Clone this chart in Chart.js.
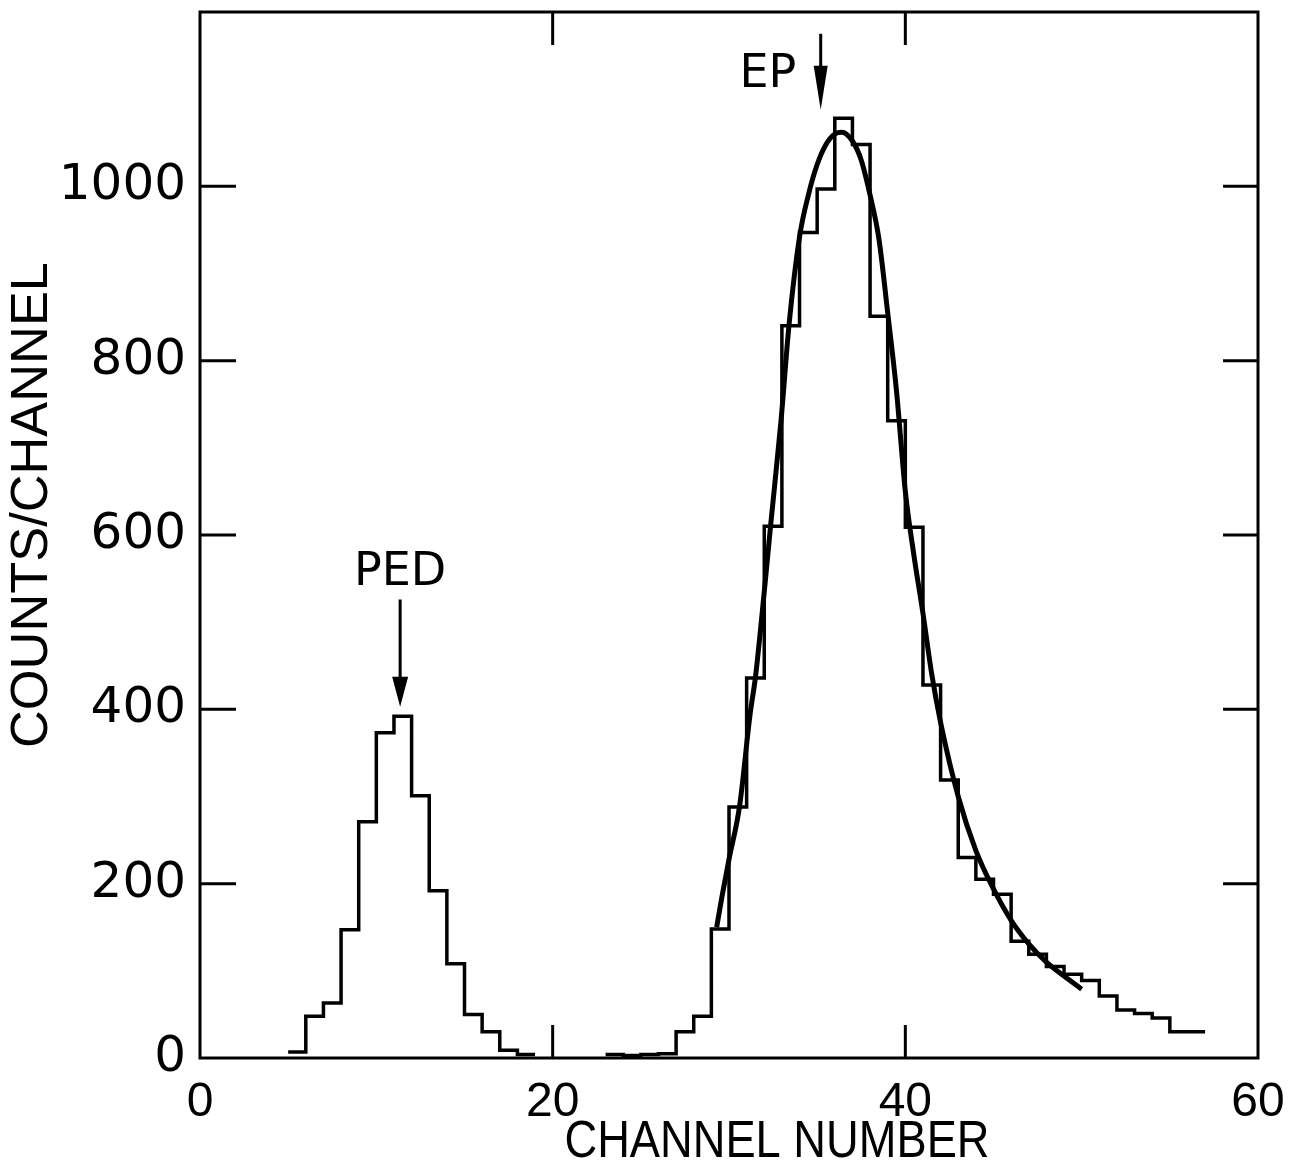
<!DOCTYPE html>
<html lang="en">
<head>
  <meta charset="UTF-8">
  <title>Counts per channel</title>
  <script src="https://cdn.jsdelivr.net/npm/chart.js"></script>
  <style>
    html, body { margin: 0; padding: 0; background: #fff; }
    #wrap { width: 1302px; height: 1164px; }
  </style>
</head>
<body>
<div id="wrap"><canvas id="myChart"></canvas></div>
<script>
  // pedestal histogram: low edge of each channel bin and its counts
  const pedChannels = [5, 6, 7, 8, 9, 10, 11, 12, 13, 14, 15, 16, 17, 18];
  const pedCounts = [7, 48, 63, 147, 271, 373, 392, 301, 192, 108, 50, 30, 9, 4];

  // main peak histogram
  const epChannels = [23, 24, 25, 26, 27, 28, 29, 30, 31, 32, 33, 34, 35, 36, 37, 38, 39,
    40, 41, 42, 43, 44, 45, 46, 47, 48, 49, 50, 51, 52, 53, 54, 55, 56];
  const epCounts = [4, 3, 4, 5, 30, 48, 148, 288, 436, 610, 840, 947, 997, 1078, 1048, 851, 731,
    609, 428, 319, 230, 205, 188, 134, 119, 105, 96, 89, 71, 55, 51, 46, 30, 30];

  // fitted curve
  const fitChannels = [29.3, 29.6, 30, 30.6, 31.2, 31.5, 32, 32.35, 32.95, 33.4, 34, 34.5, 35, 35.5,
    36, 36.4, 37, 37.5, 38, 38.5, 39, 39.5, 40, 40.5, 41, 41.5, 42, 43, 44, 45, 46, 47, 48, 49, 50];
  const fitCounts = [150, 185, 228, 289, 395, 437, 535, 609, 731, 840, 942, 990, 1025, 1048,
    1060, 1062, 1052, 1030, 990, 940, 855, 765, 650, 575, 510, 440, 385, 300, 238, 194, 158, 131, 110, 94, 79];

  const xTicks = [0, 20, 40, 60];
  const yTicks = [0, 200, 400, 600, 800, 1000];

  // text + arrow annotations, in data units
  const notes = [
    {text: 'PED', x: 11.35, y: 556, arrowX: 11.35, arrowTop: 526, arrowTip: 403, head: 30, half: 8},
    {text: 'EP', x: 32.2, y: 1128, arrowX: 35.2, arrowTop: 1175, arrowTip: 1088, head: 44, half: 7}
  ];

  // each count covers [channel, channel + 1]
  let histPoints = function (chans, counts) {
    let pts = chans.map((c, i) => ({x: c, y: counts[i]}));
    pts.push({x: chans[chans.length - 1] + 1, y: counts[counts.length - 1]});
    return pts;
  };

  // draw text squeezed/stretched to a given width
  let fitText = function (ctx, text, x, y, width) {
    let w = ctx.measureText(text).width;
    ctx.save();
    ctx.translate(x, y);
    ctx.scale(width / w, 1);
    ctx.fillText(text, 0, 0);
    ctx.restore();
  };

  let noPad = function (s) {
    s.paddingTop = 0; s.paddingBottom = 0;
    s.paddingLeft = 0; s.paddingRight = 0;
  };

  let framePlugin = {
    id: 'frame',
    afterDatasetsDraw(chart) {
      let ctx = chart.ctx;
      let a = chart.chartArea;
      let xs = chart.scales.x, ys = chart.scales.y;
      ctx.save();
      ctx.strokeStyle = '#000';
      ctx.fillStyle = '#000';
      ctx.lineWidth = 3;
      ctx.strokeRect(a.left, a.top, a.right - a.left, a.bottom - a.top);
      // inward ticks
      ctx.beginPath();
      yTicks.filter(v => v > 0).forEach(v => {
        let py = ys.getPixelForValue(v);
        ctx.moveTo(a.left, py); ctx.lineTo(a.left + 36, py);
        ctx.moveTo(a.right, py); ctx.lineTo(a.right - 35, py);
      });
      xTicks.filter(v => v > 0 && v < 60).forEach(v => {
        let px = xs.getPixelForValue(v);
        ctx.moveTo(px, a.bottom); ctx.lineTo(px, a.bottom - 33);
        ctx.moveTo(px, a.top); ctx.lineTo(px, a.top + 33);
      });
      ctx.stroke();

      // annotations
      ctx.font = '46px "DejaVu Sans"';
      ctx.textAlign = 'center';
      ctx.textBaseline = 'middle';
      notes.forEach(n => {
        ctx.fillText(n.text, xs.getPixelForValue(n.x), ys.getPixelForValue(n.y));
        let ax = xs.getPixelForValue(n.arrowX);
        let top = ys.getPixelForValue(n.arrowTop);
        let tip = ys.getPixelForValue(n.arrowTip);
        ctx.lineWidth = 3;
        ctx.beginPath();
        ctx.moveTo(ax, top); ctx.lineTo(ax, tip - n.head + 4);
        ctx.stroke();
        ctx.beginPath();
        ctx.moveTo(ax - n.half, tip - n.head);
        ctx.lineTo(ax + n.half, tip - n.head);
        ctx.lineTo(ax, tip);
        ctx.closePath();
        ctx.fill();
      });

      // axis titles
      ctx.font = '52px "Liberation Sans"';
      fitText(ctx, 'CHANNEL NUMBER', 777, 1143, 425);
      ctx.translate(33, 505);
      ctx.rotate(-Math.PI / 2);
      fitText(ctx, 'COUNTS/CHANNEL', 0, 0, 486);
      ctx.restore();
    }
  };

  let ctx = document.getElementById('myChart').getContext('2d');
  let myChart = new Chart(ctx, {
    type: 'line',
    data: {
      datasets: [{
        label: 'PED',
        data: histPoints(pedChannels, pedCounts),
        stepped: 'before',
        borderColor: '#000',
        borderWidth: 3.5,
        pointRadius: 0,
        fill: false
      }, {
        label: 'EP',
        data: histPoints(epChannels, epCounts),
        stepped: 'before',
        borderColor: '#000',
        borderWidth: 3.5,
        pointRadius: 0,
        fill: false
      }, {
        label: 'fit',
        data: fitChannels.map((c, i) => ({x: c, y: fitCounts[i]})),
        borderColor: '#000',
        borderWidth: 5,
        pointRadius: 0,
        cubicInterpolationMode: 'monotone',
        fill: false
      }]
    },
    options: {
      responsive: true,
      maintainAspectRatio: false,
      animation: false,
      layout: {padding: {top: 12, right: 44, left: 0, bottom: 0}},
      plugins: {legend: {display: false}, tooltip: {enabled: false}},
      scales: {
        x: {
          type: 'linear',
          min: 0,
          max: 60,
          afterFit: s => { s.height = 106; noPad(s); },
          afterBuildTicks: s => { s.ticks = xTicks.map(v => ({value: v})); },
          grid: {display: false},
          border: {display: false},
          ticks: {
            color: '#000',
            padding: 8,
            maxRotation: 0,
            callback: v => String(v),
            font: {family: 'Liberation Sans', size: 48}
          }
        },
        y: {
          min: 0,
          max: 1200,
          afterFit: s => { s.width = 200; noPad(s); },
          afterBuildTicks: s => { s.ticks = yTicks.map(v => ({value: v})); },
          grid: {display: false},
          border: {display: false},
          ticks: {
            color: '#000',
            padding: 6,
            callback: v => String(v),
            font: {family: 'DejaVu Sans', size: 50}
          }
        }
      }
    },
    plugins: [framePlugin]
  });
</script>
</body>
</html>
